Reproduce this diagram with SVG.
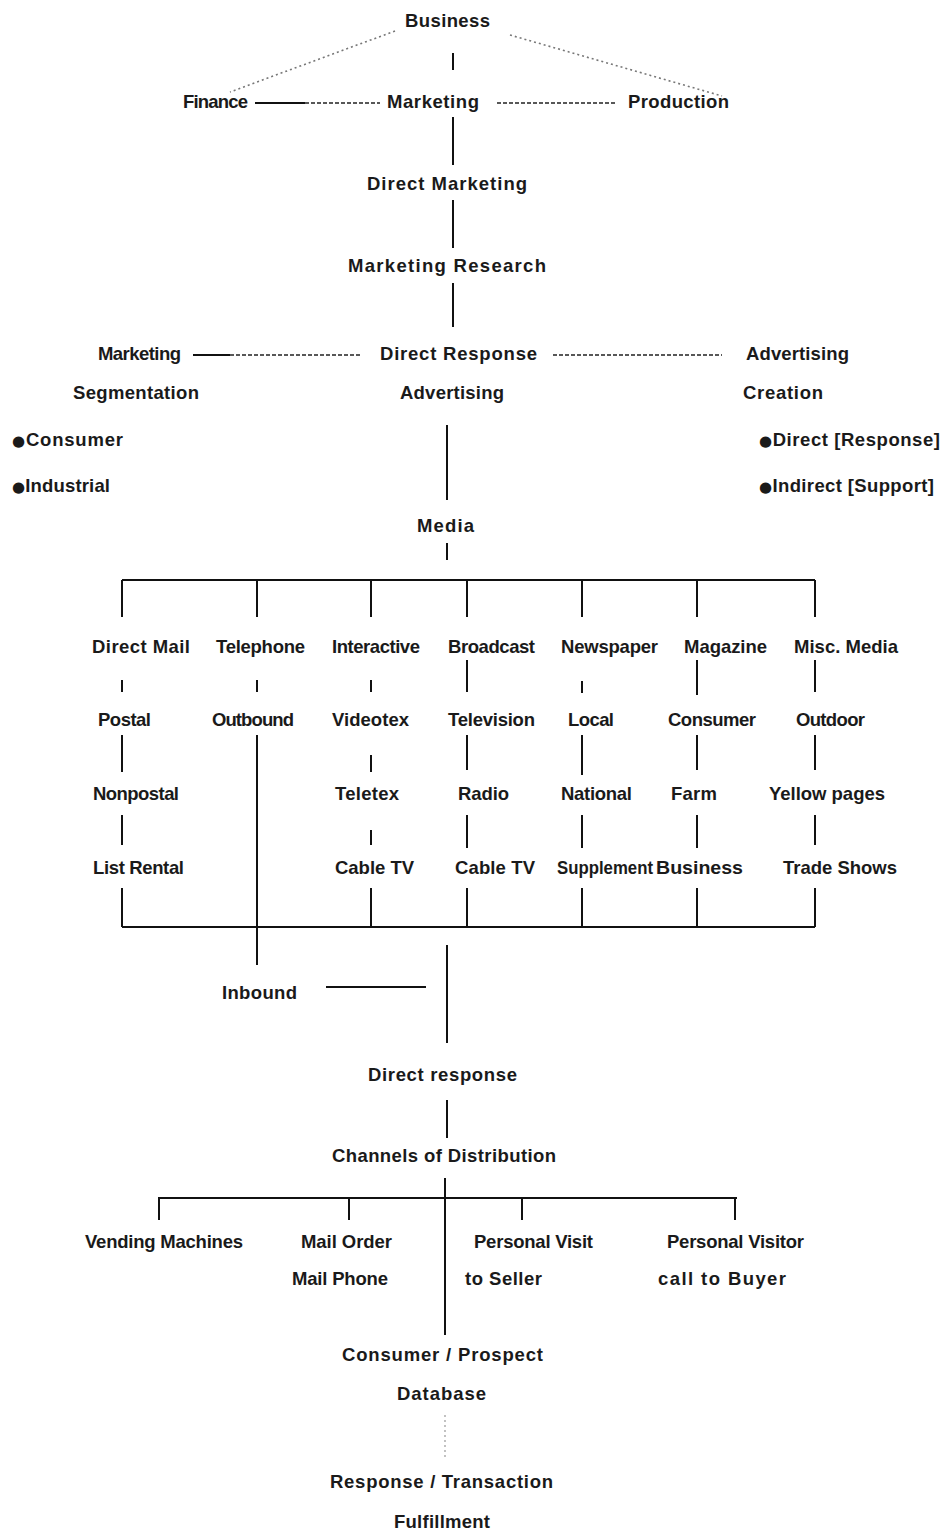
<svg xmlns="http://www.w3.org/2000/svg" width="944" height="1532" viewBox="0 0 944 1532">
<style>
text{font-family:"Liberation Sans",Arial,"DejaVu Sans",sans-serif;font-weight:bold;font-size:18.5px;fill:#1a1a1a}
.b{font-family:"DejaVu Sans",sans-serif;font-size:15px}
.ln{stroke:#111;stroke-width:2;fill:none}
.dash{stroke:#222;stroke-width:1.6;stroke-dasharray:4 2;fill:none}
.dot{stroke:#777;stroke-width:1.6;stroke-dasharray:2 3;fill:none}
</style>
<rect width="944" height="1532" fill="#fff"/>
<g id="connectors">
<path class="dot" d="M395 31 L230 92"/>
<path class="dot" d="M510 35 L722 96"/>
<path class="ln" d="M453 53 V70"/>
<path class="ln" d="M255 103 H305"/>
<path class="dash" d="M305 103 H380"/>
<path class="dash" d="M497 103 H617"/>
<path class="ln" d="M453 117 V165"/>
<path class="ln" d="M453 200 V248"/>
<path class="ln" d="M453 283 V327"/>
<path class="ln" d="M193 355 H230"/>
<path class="dash" d="M230 355 H362"/>
<path class="dash" d="M553 355 H722"/>
<path class="ln" d="M447 425 V500"/>
<path class="ln" d="M447 543 V560"/>
<path class="ln" d="M122 580 H815 M122 580 V617 M257 580 V617 M371 580 V617 M467 580 V617 M582 580 V617 M697 580 V617 M815 580 V617"/>
<path class="ln" d="M122 680 V692 M257 680 V692 M371 680 V692 M467 660 V692 M582 681 V693 M697 660 V695 M815 660 V692"/>
<path class="ln" d="M122 735 V772 M257 735 V965 M371 755 V772 M467 735 V770 M582 735 V775 M697 735 V770 M815 735 V770"/>
<path class="ln" d="M122 815 V845 M371 830 V845 M467 815 V848 M582 815 V848 M697 815 V848 M815 815 V845"/>
<path class="ln" d="M122 888 V927 M371 888 V927 M467 888 V927 M582 888 V927 M697 888 V927 M815 888 V927 M122 927 H815"/>
<path class="ln" d="M326 987 H426"/>
<path class="ln" d="M447 945 V1043"/>
<path class="ln" d="M447 1100 V1138"/>
<path class="ln" d="M445 1178 V1335"/>
<path class="ln" d="M158 1198 H737 M159 1198 V1220 M349 1198 V1220 M522 1198 V1220 M735 1198 V1220"/>
<path class="dot" d="M445 1415 V1460" style="stroke:#999;stroke-width:1.2"/>
</g>
<g id="business"><text x="405" y="27" textLength="85">Business</text></g>
<g id="finance"><text x="183" y="108" textLength="65">Finance</text></g>
<g id="marketing"><text x="387" y="108" textLength="92">Marketing</text></g>
<g id="production"><text x="628" y="108" textLength="101">Production</text></g>
<g id="direct-marketing"><text x="367" y="190" textLength="160">Direct  Marketing</text></g>
<g id="marketing-research"><text x="348" y="272" textLength="198">Marketing  Research</text></g>
<g id="marketing-segmentation"><text x="98" y="360" textLength="83">Marketing</text><text x="73" y="399" textLength="126">Segmentation</text></g>
<g id="direct-response-advertising"><text x="380" y="360" textLength="157">Direct Response</text><text x="400" y="399" textLength="104">Advertising</text></g>
<g id="advertising-creation"><text x="746" y="360" textLength="103">Advertising</text><text x="743" y="399" textLength="80">Creation</text></g>
<g id="consumer-seg"><text x="12" y="446" textLength="111"><tspan class="b">●</tspan>Consumer</text></g>
<g id="industrial"><text x="12" y="492" textLength="98"><tspan class="b">●</tspan>Industrial</text></g>
<g id="direct-resp"><text x="759" y="446" textLength="181"><tspan class="b">●</tspan>Direct [Response]</text></g>
<g id="indirect"><text x="759" y="492" textLength="175"><tspan class="b">●</tspan>Indirect [Support]</text></g>
<g id="media"><text x="417" y="532" textLength="57">Media</text></g>
<g id="direct-mail"><text x="92" y="653" textLength="98">Direct  Mail</text></g>
<g id="telephone"><text x="216" y="653" textLength="89">Telephone</text></g>
<g id="interactive"><text x="332" y="653" textLength="88">Interactive</text></g>
<g id="broadcast"><text x="448" y="653" textLength="87">Broadcast</text></g>
<g id="newspaper"><text x="561" y="653" textLength="97">Newspaper</text></g>
<g id="magazine"><text x="684" y="653" textLength="83">Magazine</text></g>
<g id="misc-media"><text x="794" y="653" textLength="104">Misc. Media</text></g>
<g id="postal"><text x="98" y="726" textLength="53">Postal</text></g>
<g id="outbound"><text x="212" y="726" textLength="82">Outbound</text></g>
<g id="videotex"><text x="332" y="726" textLength="77">Videotex</text></g>
<g id="television"><text x="448" y="726" textLength="87">Television</text></g>
<g id="local"><text x="568" y="726" textLength="46">Local</text></g>
<g id="consumer-mag"><text x="668" y="726" textLength="88">Consumer</text></g>
<g id="outdoor"><text x="796" y="726" textLength="69">Outdoor</text></g>
<g id="nonpostal"><text x="93" y="800" textLength="86">Nonpostal</text></g>
<g id="teletex"><text x="335" y="800" textLength="64">Teletex</text></g>
<g id="radio"><text x="458" y="800" textLength="51">Radio</text></g>
<g id="national"><text x="561" y="800" textLength="71">National</text></g>
<g id="farm"><text x="671" y="800" textLength="46">Farm</text></g>
<g id="yellow-pages"><text x="769" y="800" textLength="116">Yellow pages</text></g>
<g id="list-rental"><text x="93" y="874" textLength="91">List Rental</text></g>
<g id="cable-tv-1"><text x="335" y="874" textLength="79">Cable TV</text></g>
<g id="cable-tv-2"><text x="455" y="874" textLength="80">Cable TV</text></g>
<g id="supplement"><text x="557" y="874" textLength="96" lengthAdjust="spacingAndGlyphs">Supplement</text></g>
<g id="business-mag"><text x="656" y="874" textLength="87" lengthAdjust="spacingAndGlyphs">Business</text></g>
<g id="trade-shows"><text x="783" y="874" textLength="114">Trade Shows</text></g>
<g id="inbound"><text x="222" y="999" textLength="75">Inbound</text></g>
<g id="direct-response"><text x="368" y="1081" textLength="149">Direct response</text></g>
<g id="channels"><text x="332" y="1162" textLength="224">Channels of Distribution</text></g>
<g id="vending"><text x="85" y="1248" textLength="158">Vending Machines</text></g>
<g id="mail-order"><text x="301" y="1248" textLength="91">Mail Order</text><text x="292" y="1285" textLength="96">Mail Phone</text></g>
<g id="personal-visit"><text x="474" y="1248" textLength="119">Personal Visit</text><text x="465" y="1285" textLength="77">to  Seller</text></g>
<g id="personal-visitor"><text x="667" y="1248" textLength="137">Personal Visitor</text><text x="658" y="1285" textLength="128">call   to  Buyer</text></g>
<g id="database"><text x="342" y="1361" textLength="201">Consumer / Prospect</text><text x="397" y="1400" textLength="89">Database</text></g>
<g id="fulfillment"><text x="330" y="1488" textLength="223">Response / Transaction</text><text x="394" y="1528" textLength="96">Fulfillment</text></g>
</svg>
